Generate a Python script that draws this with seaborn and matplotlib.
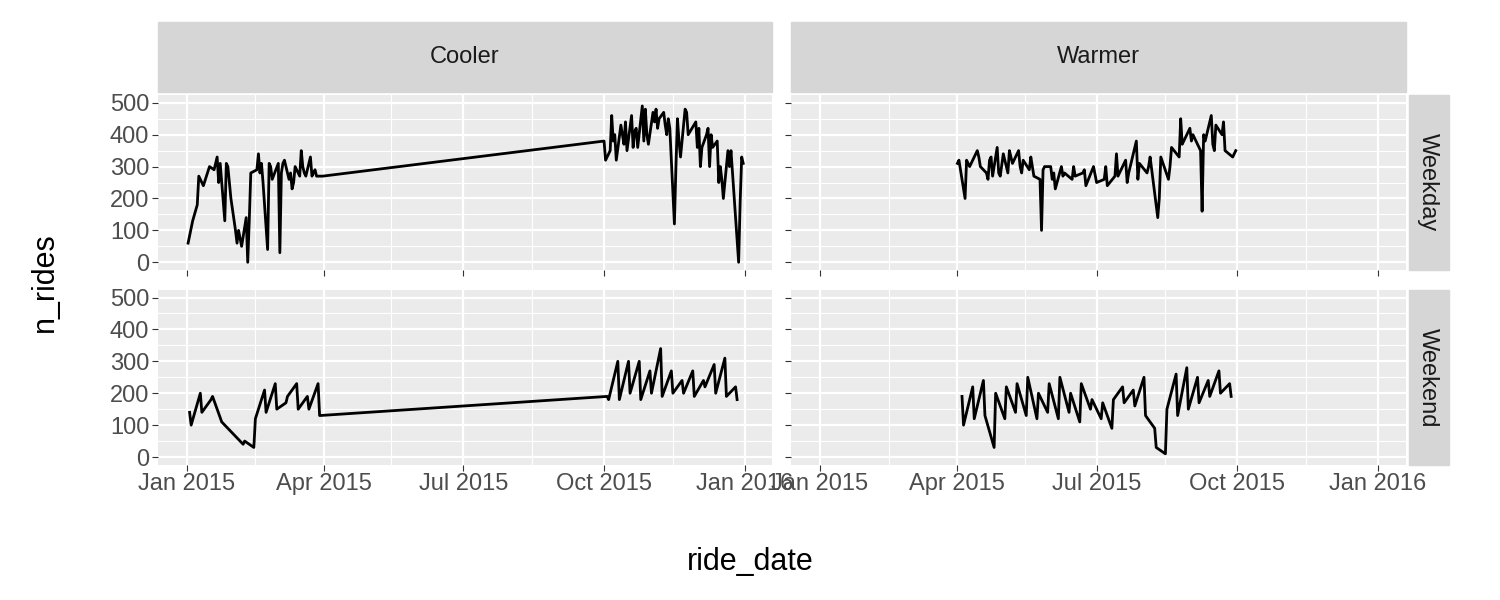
import pandas as pd
import numpy as np
import matplotlib.pyplot as plt
import matplotlib.dates as mdates
import seaborn as sns
from matplotlib.patches import Rectangle

# Cooler / Weekday
cw_dates = ['2015-01-02','2015-01-05','2015-01-08','2015-01-09','2015-01-12','2015-01-14','2015-01-16','2015-01-19',
            '2015-01-21','2015-01-22','2015-01-23','2015-01-26','2015-01-27','2015-01-28','2015-01-30','2015-02-02',
            '2015-02-03','2015-02-04','2015-02-06','2015-02-09','2015-02-10','2015-02-11','2015-02-12','2015-02-16',
            '2015-02-17','2015-02-18','2015-02-19','2015-02-20','2015-02-23','2015-02-24','2015-02-25','2015-02-26',
            '2015-03-02','2015-03-03','2015-03-04','2015-03-05','2015-03-06','2015-03-09','2015-03-10','2015-03-11',
            '2015-03-12','2015-03-13','2015-03-16','2015-03-17','2015-03-18','2015-03-19','2015-03-20','2015-03-23',
            '2015-03-24','2015-03-25','2015-03-26','2015-03-27','2015-03-31',
            '2015-10-01','2015-10-02','2015-10-05','2015-10-06','2015-10-07','2015-10-08','2015-10-09','2015-10-12',
            '2015-10-13','2015-10-14','2015-10-15','2015-10-16','2015-10-19','2015-10-20','2015-10-21','2015-10-22',
            '2015-10-23','2015-10-26','2015-10-27','2015-10-28','2015-10-29','2015-10-30','2015-11-02','2015-11-03',
            '2015-11-04','2015-11-05','2015-11-06','2015-11-09','2015-11-10','2015-11-11','2015-11-12','2015-11-13',
            '2015-11-16','2015-11-17','2015-11-18','2015-11-19','2015-11-20','2015-11-23','2015-11-24','2015-11-25',
            '2015-11-30','2015-12-01','2015-12-02','2015-12-03','2015-12-04','2015-12-07','2015-12-08','2015-12-09',
            '2015-12-10','2015-12-11','2015-12-14','2015-12-15','2015-12-16','2015-12-17','2015-12-18','2015-12-21',
            '2015-12-22','2015-12-23','2015-12-28','2015-12-29','2015-12-30','2015-12-31']
cw_rides = [60,130,180,270,240,270,300,290,330,250,310,130,310,300,200,100,
            60,100,50,140,0,130,280,290,340,280,310,250,40,310,300,260,
            310,30,280,310,320,260,280,230,250,300,270,350,300,280,270,330,
            270,280,290,270,270,
            380,320,350,460,380,400,320,430,400,370,440,350,460,360,410,420,
            360,490,380,480,400,370,470,440,480,420,450,470,430,400,450,420,
            120,300,450,380,330,480,470,400,440,360,420,300,360,400,420,300,
            400,360,380,250,300,260,200,350,300,350,0,190,330,310]

# Warmer / Weekday
ww_dates = ['2015-04-01','2015-04-02','2015-04-03','2015-04-06','2015-04-07','2015-04-08','2015-04-09','2015-04-13',
            '2015-04-14','2015-04-15','2015-04-16','2015-04-20','2015-04-21','2015-04-22','2015-04-23','2015-04-24',
            '2015-04-27','2015-04-28','2015-04-29','2015-05-01','2015-05-04','2015-05-05','2015-05-06','2015-05-07',
            '2015-05-11','2015-05-12','2015-05-13','2015-05-14','2015-05-18','2015-05-19','2015-05-20','2015-05-21',
            '2015-05-25','2015-05-26','2015-05-27','2015-05-28','2015-06-01','2015-06-02','2015-06-03','2015-06-04',
            '2015-06-08','2015-06-09','2015-06-10','2015-06-15','2015-06-16','2015-06-17','2015-06-22','2015-06-23',
            '2015-06-24','2015-06-29','2015-07-01','2015-07-06','2015-07-07','2015-07-08','2015-07-13','2015-07-14',
            '2015-07-15','2015-07-20','2015-07-21','2015-07-22','2015-07-27','2015-07-28','2015-07-29','2015-08-03',
            '2015-08-04','2015-08-05','2015-08-10','2015-08-11','2015-08-12','2015-08-17','2015-08-18','2015-08-19',
            '2015-08-24','2015-08-25','2015-08-26','2015-08-27','2015-08-31','2015-09-01','2015-09-02','2015-09-07',
            '2015-09-08','2015-09-09','2015-09-10','2015-09-14','2015-09-15','2015-09-16','2015-09-17','2015-09-21',
            '2015-09-22','2015-09-23','2015-09-28','2015-09-30']
ww_rides = [310,320,290,200,320,310,300,340,350,330,300,280,260,320,330,270,
            360,280,270,340,280,350,330,310,350,300,280,320,290,330,300,270,
            260,100,290,300,300,260,280,230,300,270,280,260,300,270,280,290,
            240,300,250,260,300,240,270,340,270,320,250,280,380,260,310,280,
            300,330,140,200,330,260,300,360,330,450,370,380,420,380,400,350,
            160,400,380,460,370,350,430,400,440,350,330,350]

# Cooler / Weekend
ce_dates = ['2015-01-03','2015-01-04','2015-01-10','2015-01-11','2015-01-17','2015-01-18','2015-01-24','2015-02-07',
            '2015-02-08','2015-02-14','2015-02-15','2015-02-21','2015-02-22','2015-02-28','2015-03-01','2015-03-07',
            '2015-03-08','2015-03-14','2015-03-15','2015-03-21','2015-03-22','2015-03-28','2015-03-29',
            '2015-10-03','2015-10-04','2015-10-10','2015-10-11','2015-10-17','2015-10-18','2015-10-24','2015-10-25',
            '2015-10-31','2015-11-01','2015-11-07','2015-11-08','2015-11-14','2015-11-15','2015-11-21','2015-11-22',
            '2015-11-28','2015-11-29','2015-12-05','2015-12-06','2015-12-12','2015-12-13','2015-12-19','2015-12-20',
            '2015-12-26','2015-12-27']
ce_rides = [140,100,200,140,180,190,110,40,
            50,30,120,210,140,230,150,170,
            190,230,150,190,150,230,130,
            190,180,300,180,300,200,300,180,
            270,200,340,190,270,200,240,200,
            270,190,240,220,290,200,310,190,
            220,180]

# Warmer / Weekend
we_dates = ['2015-04-04','2015-04-05','2015-04-11','2015-04-12','2015-04-18','2015-04-19','2015-04-25','2015-04-26',
            '2015-05-02','2015-05-03','2015-05-09','2015-05-10','2015-05-16','2015-05-17','2015-05-23','2015-05-24',
            '2015-05-30','2015-05-31','2015-06-06','2015-06-07','2015-06-13','2015-06-14','2015-06-20','2015-06-21',
            '2015-06-27','2015-06-28','2015-07-04','2015-07-05','2015-07-11','2015-07-12','2015-07-18','2015-07-19',
            '2015-07-25','2015-07-26','2015-08-01','2015-08-02','2015-08-08','2015-08-09','2015-08-15','2015-08-16',
            '2015-08-22','2015-08-23','2015-08-29','2015-08-30','2015-09-05','2015-09-06','2015-09-12','2015-09-13',
            '2015-09-19','2015-09-20','2015-09-26','2015-09-27']
we_rides = [190,100,220,120,240,130,30,200,
            120,220,140,230,130,250,120,200,
            140,230,120,250,140,200,110,230,
            150,180,120,170,90,180,220,170,
            210,160,250,130,90,30,10,150,
            260,130,280,150,250,170,240,190,
            270,200,230,190]

plt.rcParams['font.family'] = ['Liberation Sans', 'DejaVu Sans']

frames = []
for d, r, temp, day in [(cw_dates, cw_rides, 'Cooler', 'Weekday'), (ww_dates, ww_rides, 'Warmer', 'Weekday'),
                        (ce_dates, ce_rides, 'Cooler', 'Weekend'), (we_dates, we_rides, 'Warmer', 'Weekend')]:
    frames.append(pd.DataFrame({'ride_date': pd.to_datetime(d), 'n_rides': r, 'temp': temp, 'day': day}))
df = pd.concat(frames)

cols = ['Cooler', 'Warmer']
rows = ['Weekday', 'Weekend']

fig, axes = plt.subplots(2, 2, figsize=(15, 6), dpi=100, sharex=True, sharey=True)
fig.subplots_adjust(left=0.105, right=0.937, top=0.842, bottom=0.225, wspace=0.03, hspace=0.11)

xmin = pd.Timestamp('2014-12-13')
xmax = pd.Timestamp('2016-01-19')
for i, day in enumerate(rows):
    for j, temp in enumerate(cols):
        ax = axes[i, j]
        sub = df[(df.temp == temp) & (df.day == day)]
        ax.set_facecolor('#EBEBEB')
        sns.lineplot(data=sub, x='ride_date', y='n_rides', ax=ax, color='black', linewidth=2, estimator=None)
        ax.xaxis.set_major_locator(mdates.MonthLocator(bymonth=[1, 4, 7, 10]))
        ax.xaxis.set_minor_locator(mdates.MonthLocator(bymonth=[2, 5, 8, 11], bymonthday=15))
        ax.xaxis.set_major_formatter(mdates.DateFormatter('%b %Y'))
        ax.set_yticks([0, 100, 200, 300, 400, 500])
        ax.set_yticks([50, 150, 250, 350, 450], minor=True)
        ax.set_xlim(xmin, xmax)
        ax.set_ylim(-25, 525)
        ax.grid(True, which='major', color='white', linewidth=1.6)
        ax.grid(True, which='minor', color='white', linewidth=0.8)
        ax.set_axisbelow(True)
        for s in ax.spines.values():
            s.set_visible(False)
        ax.tick_params(which='major', length=4, color='#333333', labelsize=17, labelcolor='#4D4D4D', pad=2)
        ax.tick_params(which='minor', length=0)
        ax.set_xlabel('')
        ax.set_ylabel('')
        if i == 0:
            ax.add_patch(Rectangle((0, 1.017), 1, 0.40, transform=ax.transAxes, color='#D6D6D6', clip_on=False))
            ax.text(0.5, 1.217, temp, transform=ax.transAxes, ha='center', va='center', fontsize=17, color='#1A1A1A')
        if j == 1:
            ax.add_patch(Rectangle((1.005, 0), 0.065, 1, transform=ax.transAxes, color='#D6D6D6', clip_on=False))
            ax.text(1.037, 0.5, day, transform=ax.transAxes, ha='center', va='center', rotation=-90,
                    fontsize=17, color='#1A1A1A')

fig.text(0.5, 0.05, 'ride_date', ha='center', fontsize=22)
fig.text(0.02, 0.53, 'n_rides', va='center', rotation=90, fontsize=22)

plt.savefig('out.png')
